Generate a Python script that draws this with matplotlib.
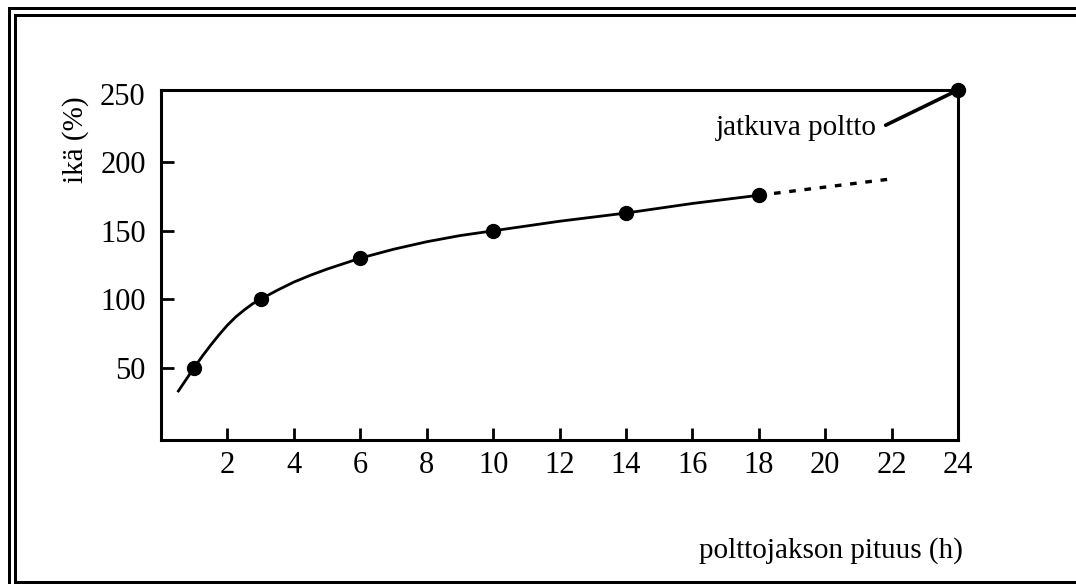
import matplotlib
matplotlib.use("Agg")
import matplotlib.pyplot as plt

plt.rcParams['font.family'] = ['Liberation Serif', 'DejaVu Serif']

# Data
point_x = [1, 3, 6, 10, 14, 18]
point_y = [50, 100, 130, 150, 163, 176]
curve_x = [0.5, 0.75, 1, 1.25, 1.5, 1.75, 2, 2.25, 2.5, 2.75, 3, 3.5, 4, 4.5, 5, 5.5, 6,
           7, 8, 9, 10, 11, 12, 13, 14, 15, 16, 17, 18]
curve_y = [32, 41, 50, 58.5, 66.5, 74, 81, 87, 92, 96.5, 100, 106.5, 112.5, 117.5, 122, 126, 130,
           136.5, 142, 146.5, 150, 153.5, 157, 160, 163, 166.5, 170, 173, 176]
dash_x = [18, 22]
dash_y = [176, 188]
cont_x = [24]
cont_y = [253]
x_ticks = [2, 4, 6, 8, 10, 12, 14, 16, 18, 20, 22, 24]
y_ticks = [50, 100, 150, 200, 250]

W, H = 1076, 584
fig = plt.figure(figsize=(W / 100, H / 100), dpi=100)
fig.patch.set_facecolor('white')

def fx(px):
    return px / W

def fy(py):
    return 1 - py / H

ax = fig.add_axes([fx(161), fy(440), fx(958) - fx(161), fy(90) - fy(440)])
ax.set_xlim(0, 24)
ax.set_ylim(-3, 253)

ax.plot(curve_x, curve_y, color='black', lw=2.0, solid_capstyle='butt', solid_joinstyle='round')
ax.plot(dash_x, dash_y, color='black', lw=2.4, linestyle=(0, (2.0, 2.6)))
ax.plot(point_x, point_y, 'o', color='black', markersize=10, clip_on=False)
ax.plot(cont_x, cont_y, 'o', color='black', markersize=10, clip_on=False, zorder=5)

ax.annotate('jatkuva poltto', xy=(24, 253), xytext=(21.55, 225),
            ha='right', va='center', fontsize=21,
            arrowprops=dict(arrowstyle='-', lw=2.6, color='black',
                            shrinkA=5, shrinkB=0, relpos=(1.0, 0.45)))

for s in ax.spines.values():
    s.set_linewidth(2.2)
ax.set_xticks(x_ticks)
ax.set_yticks(y_ticks)
ax.tick_params(axis='both', direction='in', length=9, width=2.0,
               labelsize=22, colors='black')
ax.tick_params(axis='x', pad=8)
ax.tick_params(axis='y', pad=11)
# hide the tick at 250 which coincides with the top spine
ax.yaxis.get_major_ticks()[-1].tick1line.set_visible(False)

fig.text(fx(963), fy(551), 'polttojakson pituus (h)', ha='right', va='center', fontsize=21)
fig.text(fx(76), fy(140), 'ikä (%)', ha='center', va='center', rotation=90, fontsize=21)

# double frame of the scan
def bar(y0, y1, x0, x1):
    fig.add_artist(plt.Rectangle((fx(x0), fy(y1)), fx(x1) - fx(x0), fy(y0) - fy(y1),
                                 transform=fig.transFigure, color='black', lw=0))

bar(7, 10, 8, W + 5)      # outer top
bar(7, H + 5, 8, 11)      # outer left
bar(14, 17, 14, W + 5)    # inner top
bar(14, 584, 14, 17)      # inner left
bar(581, 584, 14, W + 5)  # inner bottom

fig.savefig('out.png', dpi=100)
